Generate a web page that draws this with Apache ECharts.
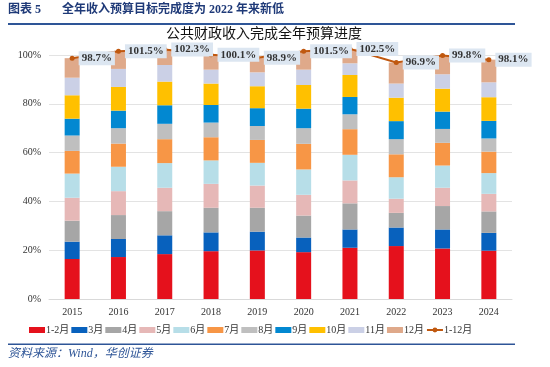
<!DOCTYPE html>
<html><head><meta charset="utf-8">
<script src="https://cdn.jsdelivr.net/npm/echarts@6/dist/echarts.min.js"></script>
<style>html,body{margin:0;padding:0;background:#fff}#c{width:550px;height:367px}</style>
</head><body><div id="c"></div>
<script>
var years = ['2015','2016','2017','2018','2019','2020','2021','2022','2023','2024'];
var m1_2 = [16.4,17.2,18.4,19.6,19.9,19.2,21.0,21.7,20.7,19.8];
var m3 = [7.1,7.4,7.7,7.7,7.7,6.0,7.5,7.6,7.8,7.3];
var m4 = [8.6,9.8,9.9,10.1,9.8,9.0,10.7,6.0,9.6,8.8];
var m5 = [9.4,9.8,9.6,9.8,9.1,8.5,9.4,5.8,7.5,7.2];
var m6 = [9.9,10.0,10.1,9.6,9.3,10.4,10.5,8.8,9.1,8.5];
var m7 = [9.3,9.5,9.8,9.5,9.4,10.5,10.5,9.4,9.3,8.8];
var m8 = [6.3,6.3,6.3,6.0,5.7,6.4,6.1,6.2,5.7,5.4];
var m9 = [6.9,7.2,7.6,7.2,7.3,8.0,7.1,7.4,7.1,7.2];
var m10 = [9.6,9.7,9.7,8.8,9.0,9.7,9.0,9.6,9.4,9.7];
var m11 = [7.2,7.4,6.8,5.7,5.7,6.3,4.8,5.8,5.9,6.1];
var m12 = [8.0,7.2,6.4,6.1,6.0,7.5,5.9,8.6,7.7,9.3];
var total = [98.7,101.5,102.3,100.1,98.9,101.5,102.5,96.9,99.8,98.1];
var yTicks = [0,20,40,60,80,100];
var monthNames = ['1-2月','3月','4月','5月','6月','7月','8月','9月','10月','11月','12月'];
var monthData = [m1_2,m3,m4,m5,m6,m7,m8,m9,m10,m11,m12];
var colors = ['#E5111C','#0861BD','#A6A6A6','#E6B8B7','#B7DEE8','#F79646','#BFBFBF','#0288D1','#FFC000','#CBD0E6','#DFA98A'];
var lineColor = '#C0580F';
var serif = '"Liberation Serif","Noto Sans CJK SC",serif';

var series = monthNames.map(function(n,i){
  return {name:n,type:'bar',stack:'s',barWidth:15,clip:false,data:monthData[i],
    itemStyle:{color:colors[i]},emphasis:{disabled:true}};
});
series.push({name:'1-12月',type:'line',data:total,clip:false,symbol:'circle',symbolSize:5,
  lineStyle:{color:lineColor,width:2},itemStyle:{color:lineColor},z:10,
  label:{show:true,position:'right',distance:4,formatter:function(p){return p.value.toFixed(1)+'%';},
    backgroundColor:'#DCE6F1',padding:[2,3,1,3],fontFamily:serif,fontWeight:'bold',fontSize:11,color:'#333'}});

var chart = echarts.init(document.getElementById('c'));
chart.setOption({
  animation:false,
  grid:{left:49,right:38,top:55,bottom:68},
  legend:{bottom:27,left:24,itemWidth:16,itemHeight:6,itemGap:2,
    textStyle:{fontFamily:serif,fontSize:10,color:'#333',padding:[0,0,0,-4]},
    data:monthNames.map(function(n){return {name:n,icon:'rect'};}).concat([{name:'1-12月'}])},
  xAxis:{type:'category',data:years,axisTick:{show:false},
    axisLine:{lineStyle:{color:'#D9D9D9'}},
    axisLabel:{fontFamily:serif,fontSize:10,color:'#333',margin:8}},
  yAxis:{type:'value',min:yTicks[0],max:yTicks[yTicks.length-1],interval:20,
    axisLabel:{formatter:'{value}%',fontFamily:serif,fontSize:10,color:'#333',margin:8},
    splitLine:{lineStyle:{color:'#E3E3E3'}},axisLine:{show:false}},
  graphic:[
    {type:'text',left:8,top:4,style:{text:'图表 5',
      font:'bold 12px "Liberation Serif","Noto Sans CJK SC"',fill:'#1F3A78'}},
    {type:'text',left:62,top:4,style:{text:'全年收入预算目标完成度为 2022 年来新低',
      font:'bold 12px "Liberation Serif","Noto Sans CJK SC"',fill:'#1F3A78'}},
    {type:'rect',shape:{x:8,y:23,width:507,height:2},style:{fill:'#2E5597'}},
    {type:'text',left:166,top:26,style:{text:'公共财政收入完成全年预算进度',
      font:'14px "Noto Sans CJK SC"',fill:'#111'}},
    {type:'rect',shape:{x:8,y:343.5,width:507,height:1.5},style:{fill:'#2E5597'}},
    {type:'text',left:8,top:348,style:{text:'资料来源：Wind，华创证券',
      font:'italic 12px "Liberation Serif","Noto Sans CJK SC"',fill:'#2E5597'}}
  ],
  series:series
});
</script></body></html>
